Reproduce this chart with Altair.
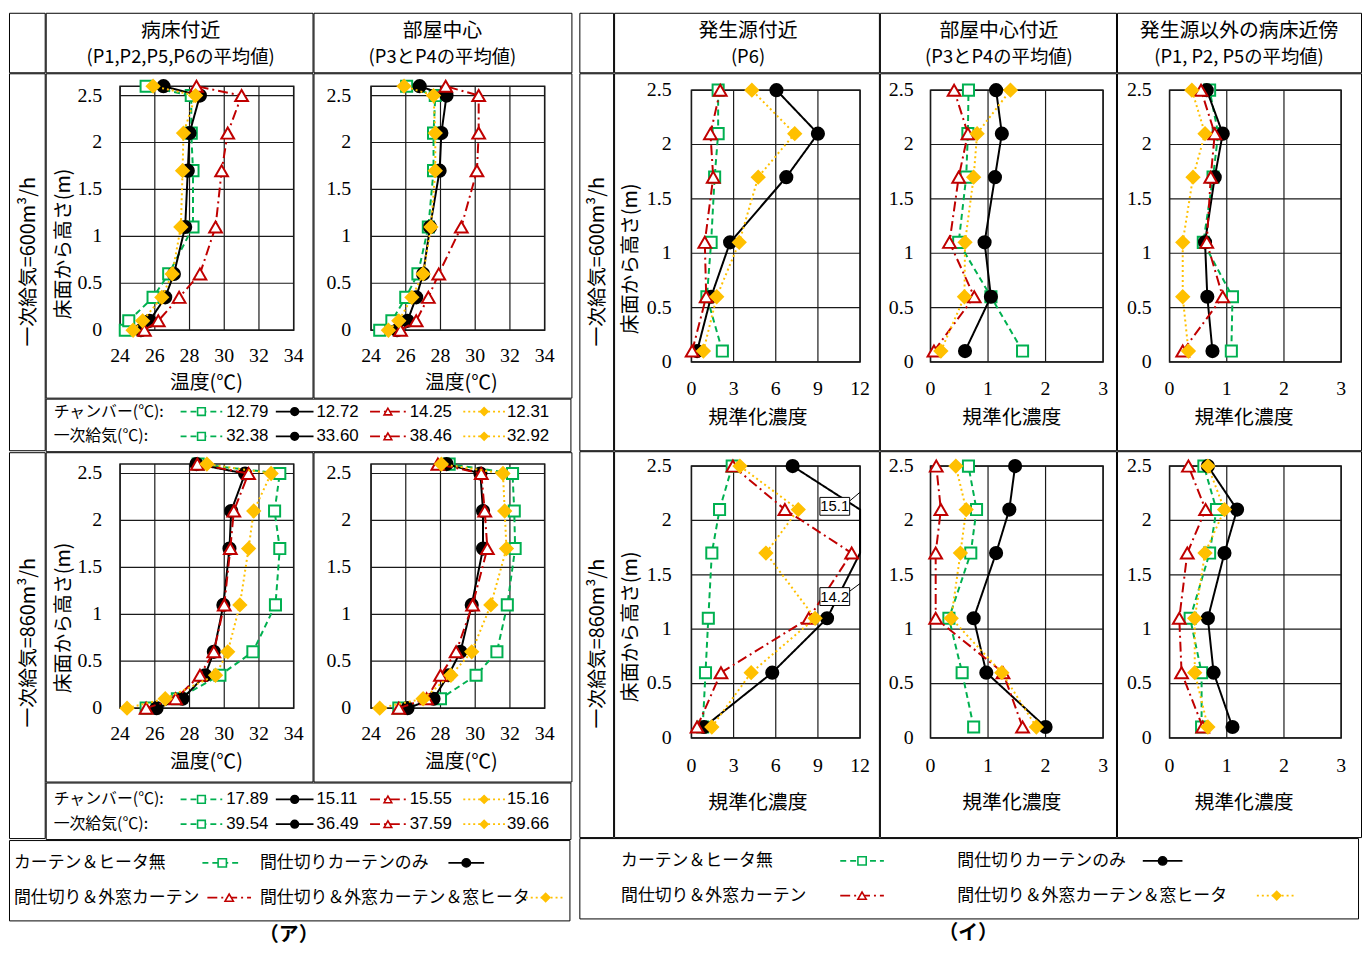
import altair as alt
import pandas as pd

# ---------------- data ----------------
SERIES = ["カーテン＆ヒータ無", "間仕切りカーテンのみ", "間仕切り＆外窓カーテン", "間仕切り＆外窓カーテン＆窓ヒータ"]

H_TEMP = [0, 0.1, 0.35, 0.6, 1.1, 1.7, 2.1, 2.5, 2.6]
H_CONC = [0.1, 0.6, 1.1, 1.7, 2.1, 2.5]

TEMP_TICKS = [24, 26, 28, 30, 32, 34]
HEIGHT_TICKS = [0, 0.5, 1, 1.5, 2, 2.5]
CONC_TICKS_P6 = [0, 3, 6, 9, 12]
CONC_TICKS = [0, 1, 2, 3]

# temperature profiles (order: none, partition, partition+outer, partition+outer+heater)
T600_BED = [
    [24.3, 24.5, 25.9, 26.8, 28.2, 28.2, 28.1, 28.1, 25.5],
    [25.2, 25.7, 26.6, 27.1, 27.75, 27.9, 28.0, 28.6, 26.5],
    [25.4, 26.2, 27.4, 28.6, 29.5, 29.85, 30.2, 31.0, 28.4],
    [24.75, 25.3, 26.4, 27.0, 27.5, 27.6, 27.65, 28.35, 25.9],
]
T600_CEN = [
    [24.5, 25.2, 26.0, 26.7, 27.3, 27.6, 27.6, 27.7, 26.05],
    [25.5, 26.1, 26.6, 27.0, 27.4, 27.95, 28.05, 28.35, 26.8],
    [25.7, 26.6, 27.3, 27.9, 29.2, 30.1, 30.2, 30.2, 28.3],
    [25.0, 25.6, 26.35, 27.0, 27.45, 27.7, 27.7, 27.6, 25.9],
]
T860_BED = [
    [25.5, 27.3, 29.75, 31.65, 32.95, 33.2, 32.9, 33.2, 28.5],
    [26.1, 27.6, 28.9, 29.4, 29.95, 30.3, 30.4, 31.2, 28.4],
    [25.5, 27.2, 28.6, 29.4, 30.0, 30.35, 30.55, 31.4, 28.45],
    [24.4, 26.6, 29.5, 30.2, 30.9, 31.4, 31.7, 32.7, 29.0],
]
T860_CEN = [
    [25.6, 28.0, 30.05, 31.25, 31.85, 32.3, 32.25, 32.15, 28.5],
    [26.1, 27.6, 28.45, 29.15, 29.8, 30.45, 30.45, 30.3, 28.35],
    [25.6, 27.2, 28.0, 28.9, 29.85, 30.7, 30.55, 30.35, 27.85],
    [24.5, 27.0, 28.6, 29.8, 30.9, 31.8, 31.7, 31.6, 28.05],
]

# normalized concentration profiles
C600_P6 = [
    [2.2, 1.1, 1.4, 1.65, 1.9, 1.9],
    [0.4, 1.4, 2.75, 6.75, 9.0, 6.05],
    [0.05, 1.05, 0.95, 1.55, 1.35, 2.05],
    [0.85, 1.8, 3.4, 4.75, 7.35, 4.3],
]
C600_CEN = [
    [1.6, 1.05, 0.49, 0.62, 0.65, 0.66],
    [0.6, 1.05, 0.94, 1.12, 1.24, 1.14],
    [0.06, 0.76, 0.33, 0.49, 0.65, 0.41],
    [0.18, 0.59, 0.6, 0.75, 0.81, 1.39],
]
C600_OTH = [
    [1.08, 1.1, 0.59, 0.76, 0.85, 0.7],
    [0.75, 0.66, 0.62, 0.79, 0.93, 0.65],
    [0.23, 0.93, 0.65, 0.72, 0.79, 0.55],
    [0.33, 0.23, 0.23, 0.41, 0.62, 0.39],
]
C860_P6 = [
    [0.8, 1.0, 1.2, 1.45, 2.0, 2.9],
    [0.9, 5.75, 9.65, 14.2, 15.1, 7.2],
    [0.4, 2.1, 8.35, 11.4, 6.65, 2.95],
    [1.45, 4.25, 8.8, 5.3, 7.6, 3.45],
]
C860_CEN = [
    [0.75, 0.55, 0.32, 0.7, 0.8, 0.66],
    [2.0, 0.97, 0.75, 1.14, 1.37, 1.47],
    [1.6, 1.26, 0.09, 0.09, 0.18, 0.1],
    [1.84, 1.24, 0.36, 0.52, 0.62, 0.44],
]
C860_OTH = [
    [0.56, 0.56, 0.36, 0.7, 0.82, 0.6],
    [1.1, 0.77, 0.67, 0.96, 1.18, 0.67],
    [0.58, 0.21, 0.17, 0.31, 0.63, 0.33],
    [0.67, 0.44, 0.44, 0.62, 0.96, 0.67],
]

CHAMBER_600 = ["12.79", "12.72", "14.25", "12.31"]
SUPPLY_600 = ["32.38", "33.60", "38.46", "32.92"]
CHAMBER_860 = ["17.89", "15.11", "15.55", "15.16"]
SUPPLY_860 = ["39.54", "36.49", "37.59", "39.66"]

# ---------------- styles ----------------
COLORS = ["#00B050", "#000000", "#C00000", "#FFC000"]
DASHES = [[6, 4], [1, 0], [10, 4, 2, 4], [2, 3]]
SHAPES = ["square", "circle", "triangle-up", "diamond"]
FILLS = ["#ffffff", "#000000", "#ffffff", "#FFC000"]
SIZES = [125, 150, 165, 160]
JP = "Noto Sans CJK JP"
SERIF = "Liberation Serif"
SANS = "Liberation Sans"
GRID = "#1a1a1a"
SP = -2

ONE = pd.DataFrame({"k": [0]})


def txt(t, x, y, size=19, align="center", angle=0, font=JP, weight="normal"):
    return alt.Chart(pd.DataFrame({"t": [t]})).mark_text(
        align=align, baseline="middle", fontSize=size, font=font,
        angle=angle, fontWeight=weight, color="black"
    ).encode(x=alt.value(x), y=alt.value(y), text="t:N")


def sym(s, xc, y, half=20, msize=70):
    line = alt.Chart(ONE).mark_rule(color=COLORS[s], strokeWidth=1.8, strokeDash=DASHES[s]).encode(
        x=alt.value(xc - half), x2=alt.value(xc + half), y=alt.value(y))
    pt = alt.Chart(ONE).mark_point(shape=SHAPES[s], filled=True, fill=FILLS[s], stroke=COLORS[s],
                                   strokeWidth=1.6, size=msize, opacity=1, fillOpacity=1).encode(
        x=alt.value(xc), y=alt.value(y))
    return [line, pt]


def cell(w, h, layers, stroke=True):
    if not layers:
        layers = [txt(" ", w / 2, h / 2, 10)]
    c = alt.layer(*layers).properties(width=w, height=h)
    if not stroke:
        c = c.properties(view=alt.ViewBackground(strokeOpacity=0))
    return c


def panel(w, h, L, R, T, B, xdom, ydom, xticks, data, heights, xtitle, ytitle=None,
          ygap=18, xlab_dy=26, clamp=False, callouts=()):
    xs = alt.Scale(domain=xdom, range=[L, R], nice=False, zero=False, clamp=clamp)
    ys = alt.Scale(domain=ydom, range=[B, T], nice=False, zero=False)

    def X(f):
        return alt.X(f, type="quantitative", scale=xs, axis=None)

    def Y(f):
        return alt.Y(f, type="quantitative", scale=ys, axis=None)

    layers = []
    vg = pd.DataFrame({"v": xticks, "a": ydom[0], "b": ydom[1]})
    layers.append(alt.Chart(vg).mark_rule(color=GRID, strokeWidth=1.2).encode(
        x=X("v"), y=Y("a"), y2=alt.Y2("b")))
    hg = pd.DataFrame({"v": HEIGHT_TICKS, "a": xdom[0], "b": xdom[1]})
    layers.append(alt.Chart(hg).mark_rule(color=GRID, strokeWidth=1.2).encode(
        y=Y("v"), x=X("a"), x2=alt.X2("b")))
    bd = pd.DataFrame({"x0": [xdom[0]], "x1": [xdom[1]], "y0": [ydom[0]], "y1": [ydom[1]]})
    layers.append(alt.Chart(bd).mark_rect(fillOpacity=0, stroke=GRID, strokeWidth=1.5).encode(
        x=X("x0"), x2=alt.X2("x1"), y=Y("y0"), y2=alt.Y2("y1")))

    for s in range(4):
        df = pd.DataFrame({"h": heights, "v": data[s], "i": list(range(len(heights)))})
        layers.append(alt.Chart(df).mark_line(color=COLORS[s], strokeWidth=2, strokeDash=DASHES[s]).encode(
            x=X("v"), y=Y("h"), order="i:Q"))
        pts = alt.Chart(df)
        if clamp:
            pts = pts.transform_filter(f"datum.v <= {xdom[1]}")
        layers.append(pts.mark_point(shape=SHAPES[s], filled=True, fill=FILLS[s], stroke=COLORS[s],
                                     strokeWidth=2, size=SIZES[s], opacity=1, fillOpacity=1).encode(
            x=X("v"), y=Y("h")))

    for (lab, cx, cy, ly) in callouts:
        bw = (xdom[1] - xdom[0]) * 15.0 / (R - L)
        bh = (ydom[1] - ydom[0]) * 9.0 / (B - T)
        box = pd.DataFrame({"x0": [cx - bw], "x1": [cx + bw], "y0": [cy - bh], "y1": [cy + bh]})
        layers.append(alt.Chart(box).mark_rect(fill="white", stroke="black", strokeWidth=1).encode(
            x=X("x0"), x2=alt.X2("x1"), y=Y("y0"), y2=alt.Y2("y1")))
        lead = pd.DataFrame({"x0": [cx + bw], "x1": [xdom[1]], "y0": [cy + bh * 0.6], "y1": [ly]})
        layers.append(alt.Chart(lead).mark_rule(color="black", strokeWidth=1).encode(
            x=X("x0"), x2=alt.X2("x1"), y=Y("y0"), y2=alt.Y2("y1")))
        layers.append(alt.Chart(pd.DataFrame({"t": [lab], "x": [cx], "y": [cy]})).mark_text(
            font=SANS, fontSize=15, baseline="middle").encode(x=X("x"), y=Y("y"), text="t:N"))

    layers.append(alt.Chart(pd.DataFrame({"v": xticks})).mark_text(
        font=SERIF, fontSize=20, baseline="middle").encode(
        x=X("v"), y=alt.value(B + xlab_dy), text=alt.Text("v:Q", format="~g")))
    layers.append(alt.Chart(pd.DataFrame({"v": HEIGHT_TICKS})).mark_text(
        font=SERIF, fontSize=20, align="right", baseline="middle").encode(
        y=Y("v"), x=alt.value(L - ygap), text=alt.Text("v:Q", format="~g")))
    layers.append(txt(xtitle[0], xtitle[1], xtitle[2], 20))
    if ytitle:
        layers.append(txt(ytitle[0], ytitle[1], ytitle[2], 20, angle=270))
    return alt.layer(*layers).properties(width=w, height=h)


def tleg(w, h, y1, y2, chamber, supply):
    SYMX = [157, 251, 345, 442]
    HALF = [21, 19, 18, 21]
    NUMX = [182, 273, 367, 465]
    layers = [txt("チャンバー(℃):", 8, y1, 16, align="left"), txt("一次給気(℃):", 8, y2, 16, align="left")]
    for s in range(4):
        for y, vals in ((y1, chamber), (y2, supply)):
            layers += sym(s, SYMX[s], y, HALF[s], 60)
            layers.append(txt(vals[s], NUMX[s], y, 17, align="left", font=SANS))
    return cell(w, h, layers)


def legend(w, h, tx, sx, halfs):
    rows = [23, 58]
    layers = []
    for s in range(4):
        y = rows[s // 2]
        layers.append(txt(SERIES[s], tx[s], y, 17, align="left"))
        layers += sym(s, sx[s], y, halfs[s], 70)
    return cell(w, h, layers)


def header(w, line1, line2, xc):
    return cell(w, 60, [txt(line1, xc, 18, 20), txt(line2, xc, 45, 18.5)])


# ---------------- section (ア) ----------------
hdrA = alt.hconcat(
    cell(36, 60, []),
    header(269, "病床付近", "(P1,P2,P5,P6の平均値)", 136),
    header(260, "部屋中心", "(P3とP4の平均値)", 130),
    spacing=SP)

p11 = panel(269, 327, 75, 250, 13, 259, [24, 34], [0, 2.6], TEMP_TICKS, T600_BED, H_TEMP,
            ("温度(℃)", 162, 312), ("床面から高さ(m)", 18, 172), ygap=18)
p12 = panel(260, 327, 58, 233, 13, 259, [24, 34], [0, 2.6], TEMP_TICKS, T600_CEN, H_TEMP,
            ("温度(℃)", 149, 312), ygap=20)
row1A = alt.hconcat(
    cell(36, 380, [txt("一次給気=600m³/h", 20, 190, 20, angle=270)]),
    alt.vconcat(alt.hconcat(p11, p12, spacing=SP),
                tleg(529, 53, 13, 38, CHAMBER_600, SUPPLY_600), spacing=SP),
    spacing=SP)

p21 = panel(269, 332, 75, 250, 12, 258, [24, 34], [0, 2.6], TEMP_TICKS, T860_BED, H_TEMP,
            ("温度(℃)", 162, 312), ("床面から高さ(m)", 18, 167), ygap=18)
p22 = panel(260, 332, 58, 233, 12, 258, [24, 34], [0, 2.6], TEMP_TICKS, T860_CEN, H_TEMP,
            ("温度(℃)", 149, 312), ygap=20)
row2A = alt.hconcat(
    cell(36, 389, [txt("一次給気=860m³/h", 20, 192, 20, angle=270)]),
    alt.vconcat(alt.hconcat(p21, p22, spacing=SP),
                tleg(529, 57, 17, 42, CHAMBER_860, SUPPLY_860), spacing=SP),
    spacing=SP)

legA = legend(565, 81, [5, 253, 5, 253], [215, 461, 222, 541], [20, 18, 22, 20])
titA = cell(565, 24, [txt("（ア）", 282, 14, 20, weight="bold")], stroke=False)
secA = alt.vconcat(hdrA, row1A, row2A, legA, titA, spacing=SP)

# ---------------- section (イ) ----------------
hdrB = alt.hconcat(
    cell(34, 60, []),
    header(267, "発生源付近", "(P6)", 135),
    header(238, "部屋中心付近", "(P3とP4の平均値)", 120),
    header(246, "発生源以外の病床近傍", "(P1, P2, P5の平均値)", 123),
    spacing=SP)

q11 = panel(267, 380, 78, 248, 17, 291, [0, 12], [0, 2.5], CONC_TICKS_P6, C600_P6, H_CONC,
            ("規準化濃度", 145, 348), ("床面から高さ(m)", 17, 187), ygap=20, xlab_dy=27)
q12 = panel(238, 380, 51, 225, 17, 291, [0, 3], [0, 2.5], CONC_TICKS, C600_CEN, H_CONC,
            ("規準化濃度", 133, 348), ygap=17, xlab_dy=27)
q13 = panel(246, 380, 53, 226, 17, 291, [0, 3], [0, 2.5], CONC_TICKS, C600_OTH, H_CONC,
            ("規準化濃度", 128, 348), ygap=18, xlab_dy=27)
row1B = alt.hconcat(cell(34, 380, [txt("一次給気=600m³/h", 19, 190, 20, angle=270)]),
                    q11, q12, q13, spacing=SP)

q21 = panel(267, 389, 78, 248, 15, 289, [0, 12], [0, 2.5], CONC_TICKS_P6, C860_P6, H_CONC,
            ("規準化濃度", 145, 355), ("床面から高さ(m)", 17, 177), ygap=20, xlab_dy=28,
            clamp=True, callouts=[("15.1", 10.2, 2.13, 2.26), ("14.2", 10.2, 1.3, 1.42)])
q22 = panel(238, 389, 51, 225, 15, 289, [0, 3], [0, 2.5], CONC_TICKS, C860_CEN, H_CONC,
            ("規準化濃度", 133, 355), ygap=17, xlab_dy=28)
q23 = panel(246, 389, 53, 226, 15, 289, [0, 3], [0, 2.5], CONC_TICKS, C860_OTH, H_CONC,
            ("規準化濃度", 128, 355), ygap=18, xlab_dy=28)
row2B = alt.hconcat(cell(34, 389, [txt("一次給気=860m³/h", 19, 194, 20, angle=270)]),
                    q21, q22, q23, spacing=SP)

legB = legend(785, 81, [42, 381, 42, 381], [285, 588, 285, 703], [22, 20, 22, 20])
titB = cell(785, 24, [txt("（イ）", 392, 14, 20, weight="bold")], stroke=False)
secB = alt.vconcat(hdrB, row1B, row2B, legB, titB, spacing=SP)

chart = alt.hconcat(secA, secB, spacing=6).properties(
    padding=0, background="white"
).configure_view(stroke="black", strokeWidth=1)

chart.save("out.html", embed_options={"renderer": "svg", "actions": False})
